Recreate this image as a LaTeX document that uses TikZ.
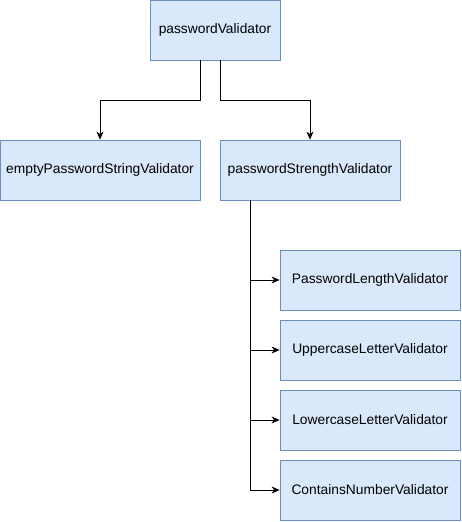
\documentclass[tikz,border=0pt]{standalone}
\usepackage{fontspec}
\setmainfont{Liberation Sans}
\usetikzlibrary{arrows.meta}
\definecolor{boxfill}{HTML}{DAE8FC}
\definecolor{boxline}{HTML}{6C8EBF}
\tikzset{
  validator/.style={draw=boxline, fill=boxfill, line width=0.8pt, inner sep=0pt,
    minimum height=60pt, font=\fontsize{13.8}{16}\selectfont},
  link/.style={draw=black, line width=0.8pt, -{Stealth[length=8pt,width=7pt,inset=2.5pt]}}
}
\begin{document}
\begin{tikzpicture}[x=1pt,y=-1pt]
\useasboundingbox (0,0) rectangle (462,522);
% root
\node[validator, minimum width=130pt] (pv) at (215,30) {passwordValidator};
% second level
\node[validator, minimum width=200pt] (eps) at (100,170) {emptyPasswordStringValidator};
\node[validator, minimum width=180pt] (psv) at (310,170) {passwordStrengthValidator};
% strength checks
\node[validator, minimum width=180pt] (plv) at (370,280) {PasswordLengthValidator};
\node[validator, minimum width=180pt] (ulv) at (370,350) {UppercaseLetterValidator};
\node[validator, minimum width=180pt] (llv) at (370,420) {LowercaseLetterValidator};
\node[validator, minimum width=180pt] (cnv) at (370,490) {ContainsNumberValidator};
% root links
\draw[link] ([xshift=-15pt]pv.south) -- ++(0,40) -| (eps.north);
\draw[link] ([xshift=5pt]pv.south) -- ++(0,40) -| (psv.north);
% trunk links
\draw[link] ([xshift=-60pt]psv.south) |- (plv.west);
\draw[link] ([xshift=-60pt]psv.south) |- (ulv.west);
\draw[link] ([xshift=-60pt]psv.south) |- (llv.west);
\draw[link] ([xshift=-60pt]psv.south) |- (cnv.west);
\end{tikzpicture}
\end{document}
